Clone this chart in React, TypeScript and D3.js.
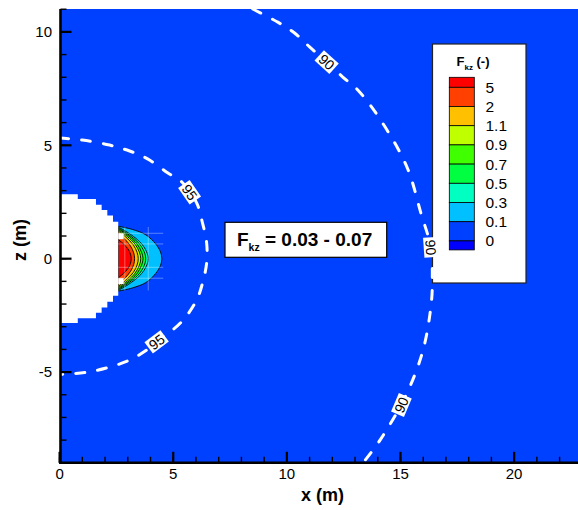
import React from 'react';
import * as d3 from 'd3';

const W = 578;
const H = 510;

// axis ticks
const xMajor = [0, 5, 10, 15, 20];
const xMinor = [0,1,2,3,4,5,6,7,8,9,10,11,12,13,14,15,16,17,18,19,20,21,22];
const zMajor = [-5, 0, 5, 10];
const zMinor = [-9,-8,-7,-6,-5,-4,-3,-2,-1,0,1,2,3,4,5,6,7,8,9,10,11];

// legend
const legendTicks = ['5', '2', '1.1', '0.9', '0.7', '0.5', '0.3', '0.1', '0'];
const legendColors = ['#ff0000', '#ff4000', '#ffc000', '#c0ff00', '#40ff00', '#00ff40', '#00ffc0', '#00c0ff', '#0040ff', '#0000ff'];
const fieldColor = '#0040ff';

// dashed contours (x, z)
const contour95 = [[0,5.32],[1.0,5.23],[2.2,5.01],[3.08,4.75],[3.87,4.4],[4.75,3.79],[5.41,3.35],[6.03,2.46],[6.29,1.57],[6.47,0.69],[6.47,-0.19],[6.29,-1.07],[6.03,-1.82],[5.35,-2.8],[4.27,-3.67],[3.83,-4.03],[3.08,-4.47],[2.2,-4.78],[1.23,-5.0],[0.31,-5.09],[0,-5.1]];
const contour90 = [[8.5,11.01],[9.6,10.43],[10.34,9.95],[11.0,9.34],[11.75,8.67],[12.46,8.01],[13.12,7.44],[14.2,6],[15.3,4],[15.9,2],[16.33,0.5],[16.4,-1],[16.35,-2],[16.0,-4],[15.25,-6],[14.1,-8],[13.35,-9]];

const contourLabels = [
  { text: '90', x: 11.75, z: 8.67, angle: 42 },
  { text: '90', x: 16.33, z: 0.5, angle: 86 },
  { text: '90', x: 15.04, z: -6.45, angle: -67 },
  { text: '95', x: 5.72, z: 2.93, angle: 55 },
  { text: '95', x: 4.27, z: -3.67, angle: -37 },
];

// high-value zone near the body: upper half profiles (wall -> tip), band color inside
const lvl01 = [[2.58,1.43],[3.2,1.29],[3.8,1.05],[4.22,0.66],[4.44,0.3],[4.5,0]];
const lvl03 = [[2.58,1.40],[3.11,1.08],[3.57,0.70],[3.82,0.32],[3.90,0]];
const lvl05 = [[2.58,1.36],[3.06,1.05],[3.49,0.68],[3.72,0.31],[3.79,0]];
const lvl07 = [[2.58,1.32],[3.02,1.02],[3.40,0.66],[3.60,0.30],[3.67,0]];
const lvl09 = [[2.58,1.27],[2.98,0.98],[3.32,0.64],[3.51,0.29],[3.57,0]];
const lvl11 = [[2.58,1.22],[2.93,0.94],[3.24,0.61],[3.41,0.28],[3.46,0]];
const lvl2 = [[2.58,1.12],[2.87,0.86],[3.12,0.56],[3.26,0.26],[3.30,0]];
const lvl5 = [[2.58,0.85],[2.81,0.65],[3.01,0.43],[3.12,0.20],[3.15,0]];
const zoneProfiles = [lvl01, lvl03, lvl05, lvl07, lvl09, lvl11, lvl2, lvl5];
const zoneColors = ['#00c0ff', '#00ffc0', '#00ff40', '#40ff00', '#c0ff00', '#ffc000', '#ff4000', '#ff0000'];

// body (blanked cells) staircase, upper half
const stepX = [0.8, 1.6, 1.85, 2.1, 2.35, 2.58];
const stepZ = [2.84, 2.63, 2.38, 2.15, 1.9, 1.63];
const notchZ = [[0.86, 1.12], [-1.12, -0.86]];
const notchX = [2.58, 2.82];

// faint mesh lines
const meshZ = [1.12, 0.65, -0.38, -0.86];
const meshX = [2.87, 3.9];

const FONT = 'Liberation Sans, Arial, Helvetica, sans-serif';

export default function App() {
  const x = d3.scaleLinear().domain([0, 22.81]).range([59.6, 578]);
  const y = d3.scaleLinear().domain([-9, 11.01]).range([462.8, 9]);

  const dashLine = d3.line<number[]>().x(d => x(d[0])).y(d => y(d[1])).curve(d3.curveCatmullRom.alpha(0.5));

  const zonePath = (half: number[][]) => {
    const lower = half.slice(0, -1).reverse().map(p => [p[0], -p[1]]);
    const pts = half.concat(lower);
    return dashLine(pts) + 'Z';
  };

  // body polygon
  const body: number[][] = [[0, stepZ[0]]];
  stepX.forEach((sx, i) => {
    body.push([sx, stepZ[i]]);
    if (i < stepX.length - 1) body.push([sx, stepZ[i + 1]]);
  });
  const lowerBody = body.slice().reverse().map(p => [p[0], -p[1]]);
  const bodyPts = body.concat(lowerBody);
  const bodyPath = 'M' + bodyPts.map(p => `${x(p[0])},${y(p[1])}`).join('L') + 'Z';

  const left = x(0);
  const plotLeft = 60.5;
  const bottom = y(-9);

  // legend layout
  const lgBox = { x: 432.5, y: 44, w: 93.5, h: 239 };
  const barX = 449.3, barW = 25, barTop = 77.3, endH = 10, midH = 19.2;
  const bandTops: number[] = [];
  const bandHs: number[] = [];
  let cy = barTop;
  legendColors.forEach((_, i) => {
    const h = i === 0 ? endH : i === legendColors.length - 1 ? 9 : midH;
    bandTops.push(cy);
    bandHs.push(h);
    cy += h;
  });

  return (
    <svg width={W} height={H} style={{ position: 'absolute', left: 0, top: 0, background: '#fff' }} fontFamily={FONT}>
      {/* field */}
      <rect x={plotLeft} y={y(11.01)} width={578 - plotLeft} height={bottom - y(11.01)} fill={fieldColor} />

      {/* high-value zone */}
      {zoneProfiles.map((p, i) => (
        <path key={i} d={zonePath(p)} fill={zoneColors[i]} stroke="#000" strokeWidth={0.9} />
      ))}

      {/* faint mesh lines */}
      <g stroke="#ffffff" strokeOpacity={0.35} strokeWidth={1}>
        {meshZ.map((mz, i) => (
          <line key={'h' + i} x1={x(2.58)} x2={x(4.56)} y1={y(mz)} y2={y(mz)} />
        ))}
        {meshX.map((mx, i) => (
          <line key={'v' + i} x1={x(mx)} x2={x(mx)} y1={y(1.4)} y2={y(-1.4)} />
        ))}
      </g>

      {/* body */}
      <path d={bodyPath} fill="#ffffff" />
      {notchZ.map((nz, i) => (
        <rect key={i} x={x(notchX[0])} y={y(nz[1])} width={x(notchX[1]) - x(notchX[0])} height={y(nz[0]) - y(nz[1])} fill="#fff" />
      ))}

      {/* legend */}
      <rect x={lgBox.x} y={lgBox.y} width={lgBox.w} height={lgBox.h} fill="#fff" stroke="#222" strokeWidth={1.2} />
      <text x={456.5} y={66} fontSize={13} fontWeight="bold" fill="#000">
        F<tspan fontSize={8} dy={4}>kz</tspan><tspan fontSize={13} dy={-4}> (-)</tspan>
      </text>
      {legendColors.map((c, i) => (
        <rect key={i} x={barX} y={bandTops[i]} width={barW} height={bandHs[i]} fill={c} stroke="#000" strokeWidth={0.8} />
      ))}
      {legendTicks.map((t, i) => (
        <text key={i} x={485.5} y={bandTops[i + 1]} dy="0.36em" fontSize={15.5} fill="#000">{t}</text>
      ))}

      {/* dashed contours */}
      <g fill="none" stroke="#fff" strokeWidth={3} strokeDasharray="9 13" strokeLinecap="round">
        <path d={dashLine(contour95) || ''} />
        <path d={dashLine(contour90) || ''} />
      </g>
      {contourLabels.map((l, i) => (
        <g key={i} transform={`translate(${x(l.x)},${y(l.z)}) rotate(${l.angle})`}>
          <rect x={-10} y={-7} width={20} height={14} fill="#fff" />
          <text x={0} y={0} dy="0.36em" textAnchor="middle" fontSize={14} fill="#000">{l.text}</text>
        </g>
      ))}

      {/* annotation box */}
      <rect x={225} y={222.3} width={161.7} height={35} fill="#fff" stroke="#000" strokeWidth={1.2} />
      <text x={237} y={246} fontSize={19} fontWeight="bold" fill="#000">
        F<tspan fontSize={10.5} dy={5}>kz</tspan><tspan fontSize={19} dy={-5}> = 0.03 - 0.07</tspan>
      </text>

      {/* axes */}
      <g stroke="#000">
        {xMinor.map(t => (
          <line key={'xm' + t} x1={x(t)} x2={x(t)} y1={bottom} y2={bottom - 6} strokeWidth={1.4} />
        ))}
        {xMajor.map(t => (
          <line key={'xM' + t} x1={x(t)} x2={x(t)} y1={bottom} y2={bottom - 11} strokeWidth={2.2} />
        ))}
        {zMinor.map(t => (
          <line key={'zm' + t} x1={plotLeft} x2={plotLeft + 6} y1={y(t)} y2={y(t)} strokeWidth={1.4} />
        ))}
        {zMajor.map(t => (
          <line key={'zM' + t} x1={plotLeft} x2={plotLeft + 11} y1={y(t)} y2={y(t)} strokeWidth={2.2} />
        ))}
        <line x1={plotLeft} x2={plotLeft} y1={y(11.01)} y2={bottom + 1.3} strokeWidth={2.6} />
        <line x1={plotLeft - 1.3} x2={578} y1={bottom} y2={bottom} strokeWidth={2.6} />
      </g>
      {xMajor.map(t => (
        <text key={'xl' + t} x={x(t)} y={479} textAnchor="middle" fontSize={15} fill="#000">{t}</text>
      ))}
      {zMajor.map(t => (
        <text key={'zl' + t} x={52} y={y(t)} dy="0.36em" textAnchor="end" fontSize={15} fill="#000">{t}</text>
      ))}
      <text x={322.5} y={501} textAnchor="middle" fontSize={18} fontWeight="bold" fill="#000">x (m)</text>
      <text transform={`translate(26,240) rotate(-90)`} textAnchor="middle" fontSize={18} fontWeight="bold" fill="#000">z (m)</text>
    </svg>
  );
}
